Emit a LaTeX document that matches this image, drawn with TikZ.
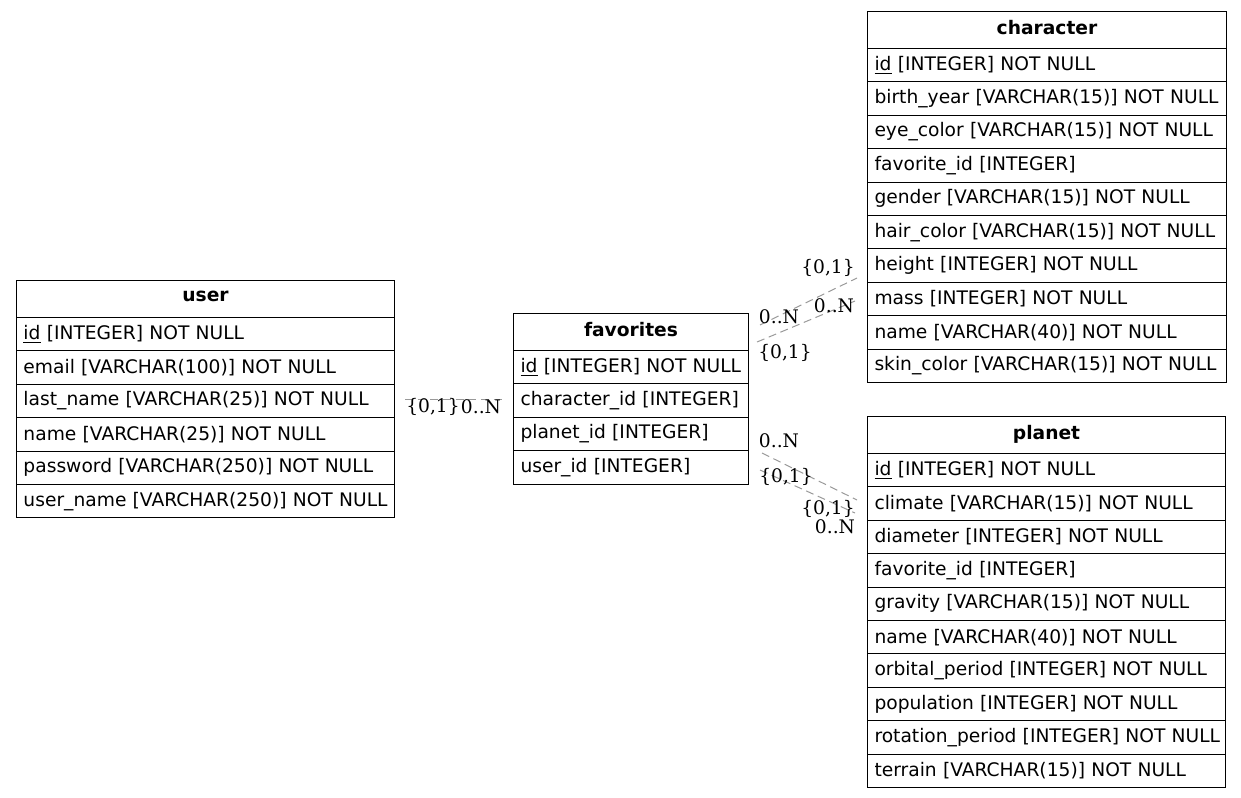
\documentclass[tikz,border=0pt]{standalone}
\usepackage{fontspec}
\setmainfont{DejaVu Sans}
\newfontfamily\cardfont{DejaVu Serif}
\newcommand{\tblsize}{\fontsize{14}{17}\selectfont}
\tikzset{tblhead/.style={draw, line width=0.75pt, anchor=north west, font=\tblsize\bfseries, inner sep=0pt, text depth=4pt, minimum height=27.75pt, minimum width=#1}}
\tikzset{tblrow/.style={draw, line width=0.75pt, anchor=north west, font=\tblsize, inner xsep=5.25pt, inner ysep=0pt, text width=#1, minimum height=25.05pt, align=left}}
\tikzset{relline/.style={draw=gray!80, line width=0.75pt, dash pattern=on 6pt off 3.5pt}}
\tikzset{card/.style={font=\tblsize\cardfont, inner sep=0pt}}

\begin{document}
\begin{tikzpicture}[x=0.75pt, y=-0.75pt]
	\useasboundingbox (0,0) rectangle (1241,797);
	% tables
	\node[tblhead=283.5pt] (user) at (16,280) {user};
	\foreach \txt [count=\i] in {\underline{id} [INTEGER] NOT NULL, email [VARCHAR(100)] NOT NULL, last\_name [VARCHAR(25)] NOT NULL, name [VARCHAR(25)] NOT NULL, password [VARCHAR(250)] NOT NULL, user\_name [VARCHAR(250)] NOT NULL}
		\node[tblrow=273pt] (user-\i) at (16,{317+(\i-1)*33.4}) {\mbox{\txt}};

	\node[tblhead=176.25pt] (favorites) at (513,313) {favorites};
	\foreach \txt [count=\i] in {\underline{id} [INTEGER] NOT NULL, character\_id [INTEGER], planet\_id [INTEGER], user\_id [INTEGER]}
		\node[tblrow=165.75pt] (favorites-\i) at (513,{350+(\i-1)*33.4}) {\mbox{\txt}};

	\node[tblhead=269.25pt] (character) at (867,11) {character};
	\foreach \txt [count=\i] in {\underline{id} [INTEGER] NOT NULL, birth\_year [VARCHAR(15)] NOT NULL, eye\_color [VARCHAR(15)] NOT NULL, favorite\_id [INTEGER], gender [VARCHAR(15)] NOT NULL, hair\_color [VARCHAR(15)] NOT NULL, height [INTEGER] NOT NULL, mass [INTEGER] NOT NULL, name [VARCHAR(40)] NOT NULL, skin\_color [VARCHAR(15)] NOT NULL}
		\node[tblrow=258.75pt] (character-\i) at (867,{48+(\i-1)*33.4}) {\mbox{\txt}};

	\node[tblhead=268.5pt] (planet) at (867,416) {planet};
	\foreach \txt [count=\i] in {\underline{id} [INTEGER] NOT NULL, climate [VARCHAR(15)] NOT NULL, diameter [INTEGER] NOT NULL, favorite\_id [INTEGER], gravity [VARCHAR(15)] NOT NULL, name [VARCHAR(40)] NOT NULL, orbital\_period [INTEGER] NOT NULL, population [INTEGER] NOT NULL, rotation\_period [INTEGER] NOT NULL, terrain [VARCHAR(15)] NOT NULL}
		\node[tblrow=258pt] (planet-\i) at (867,{453+(\i-1)*33.4}) {\mbox{\txt}};

	% relation ends
	\coordinate (uf-a) at (405,399);
	\coordinate (uf-b) at (505,399);
	\coordinate (fc-a) at (760,325);
	\coordinate (fc-b) at (857,278);
	\coordinate (fc-c) at (757,342);
	\coordinate (fc-d) at (855,301);
	\coordinate (fp-a) at (762,453);
	\coordinate (fp-b) at (857,500);
	\coordinate (fp-c) at (760,470);
	\coordinate (fp-d) at (855,513);

	\draw[relline] (uf-a) -- (uf-b);
	\draw[relline] (fc-a) -- (fc-b);
	\draw[relline] (fc-c) -- (fc-d);
	\draw[relline] (fp-a) -- (fp-b);
	\draw[relline] (fp-c) -- (fp-d);

	% cardinalities
	\node[card] (uf-one) at (433,407) {\{0,1\}};
	\node[card] (uf-many) at (481,407) {0..N};
	\node[card] (fc-one) at (828,268) {\{0,1\}};
	\node[card] (fc-many) at (779,317) {0..N};
	\node[card] (fc-many2) at (834,306) {0..N};
	\node[card] (fc-one2) at (785,353) {\{0,1\}};
	\node[card] (fp-many) at (779,441) {0..N};
	\node[card] (fp-one) at (786,477) {\{0,1\}};
	\node[card] (fp-one2) at (828,509) {\{0,1\}};
	\node[card] (fp-many2) at (835,527) {0..N};
\end{tikzpicture}
\end{document}
